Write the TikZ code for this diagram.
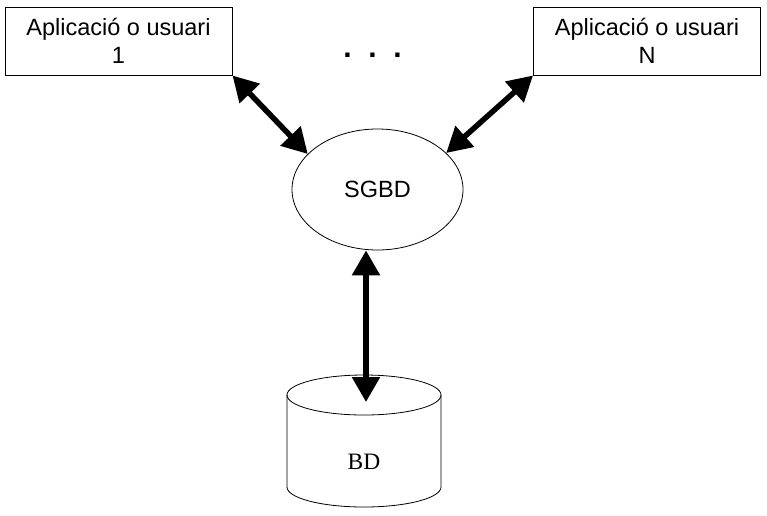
\documentclass[tikz,border=0pt]{standalone}
\usepackage{fontspec}
\setmainfont{Liberation Sans}
\newfontfamily\bdfont{Liberation Serif}
\usetikzlibrary{arrows.meta,shapes.geometric}

\tikzset{
  appbox/.style={draw, line width=1pt, minimum width=227pt, minimum height=68pt,
    inner sep=0pt, align=center, font=\fontsize{23.5}{28}\selectfont},
  dblarrow/.style={{Triangle[length=25pt,width=27pt]}-{Triangle[length=25pt,width=27pt]},
    line width=5.5pt},
}

\begin{document}
\begin{tikzpicture}[x=1pt,y=-1pt]
    \useasboundingbox (0,0) rectangle (767,515);

    % Applications / users
    \node[appbox] (app1) at (118.5,41) {Aplicació o usuari\\1};
    \node[appbox] (appN) at (647,41) {Aplicació o usuari\\N};
    \node[font=\fontsize{30}{30}\selectfont\bfseries] (dots) at (372.5,55) {.\ \ .\ \ .};

    % DBMS
    \node[draw, ellipse, line width=0.8pt, minimum width=171pt, minimum height=121pt,
      inner sep=0pt, font=\fontsize{23.5}{28}\selectfont] (sgbd) at (377.5,189.5) {SGBD};

    % Database (cylinder)
    \draw[line width=0.8pt] (364,395) ellipse [x radius=77, y radius=20];
    \draw[line width=0.8pt] (287,395) -- (287,487)
      arc[start angle=180, end angle=0, x radius=77, y radius=20] -- (441,395);
    \node[font=\bdfont\fontsize{23.5}{28}\selectfont] (bd) at (364,462) {BD};
    \coordinate (bdin) at (366,402);

    % Connections
    \draw[dblarrow] (app1.south east) -- (sgbd.153);
    \draw[dblarrow] (appN.south west) -- (sgbd.28);
    \draw[dblarrow] (bdin |- sgbd.south) -- (bdin);
\end{tikzpicture}
\end{document}
